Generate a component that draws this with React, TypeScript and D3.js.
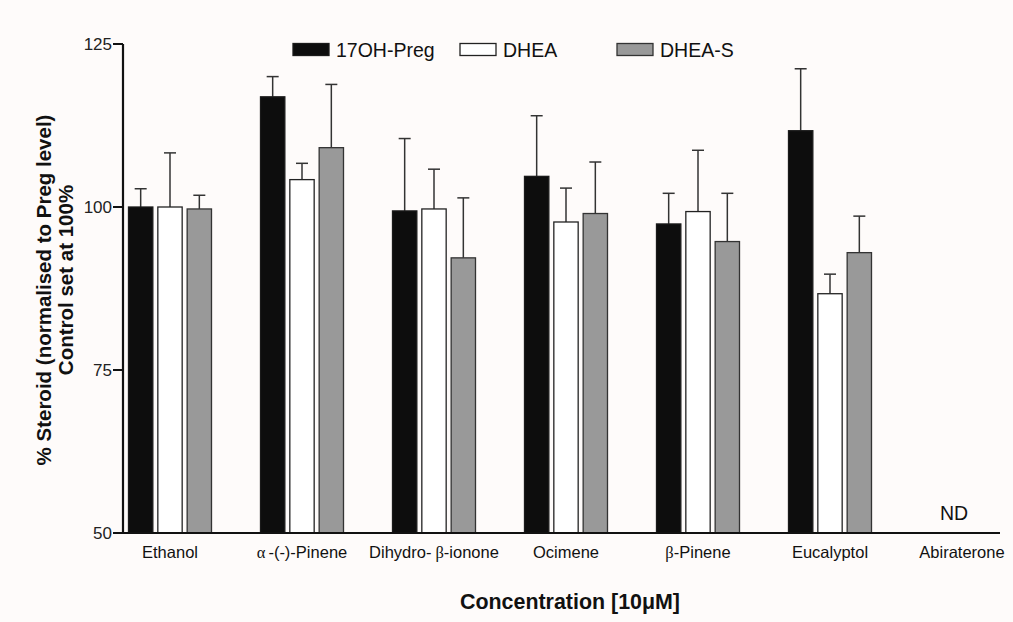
import React, { useEffect, useRef } from 'react';
import * as d3 from 'd3';

const categories = ['Ethanol', 'α-(-)-Pinene', 'Dihydro-β-ionone', 'Ocimene', 'β-Pinene', 'Eucalyptol', 'Abiraterone'];
const seriesNames = ['17OH-Preg', 'DHEA', 'DHEA-S'];
// mean values (null = not detected)
const preg17oh = [100.0, 116.9, 99.4, 104.7, 97.4, 111.7, null];
const dhea = [100.0, 104.2, 99.7, 97.7, 99.3, 86.7, null];
const dheaS = [99.7, 109.1, 92.2, 99.0, 94.7, 93.0, null];
// upper error values
const preg17ohErr = [2.8, 3.1, 11.1, 9.3, 4.7, 9.5, null];
const dheaErr = [8.3, 2.5, 6.1, 5.2, 9.4, 3.0, null];
const dheaSErr = [2.1, 9.7, 9.2, 7.9, 7.4, 5.6, null];
const yTicks = [50, 75, 100, 125];

const fills = ['#0d0d0d', '#ffffff', '#999999'];
const strokes = ['#1a1a1a', '#222222', '#333333'];
const FONT = 'Liberation Sans, Arial, sans-serif';

export default function App() {
  const svgRef = useRef<SVGSVGElement>(null);

  useEffect(() => {
    if (!svgRef.current) return;
    const svg = d3.select(svgRef.current);
    svg.selectAll('*').remove();

    const width = 1013;
    const height = 622;
    const axisX = 123;
    const axisY = 533;

    svg.attr('width', width).attr('height', height);
    svg.append('rect').attr('width', width).attr('height', height).attr('fill', '#fefbfa');

    const y = d3.scaleLinear().domain([50, 125]).range([axisY, 44]);
    const x0 = d3.scaleBand<string>().domain(categories).range([104, 1028]);
    const x1 = d3.scaleBand<string>().domain(seriesNames).range([0, 83]).paddingInner(0.17);

    const values = [preg17oh, dhea, dheaS];
    const errs = [preg17ohErr, dheaErr, dheaSErr];

    const rows: any[] = [];
    categories.forEach((c, i) => {
      seriesNames.forEach((s, j) => {
        if (values[j][i] != null) rows.push({ c, s, j, v: values[j][i], e: errs[j][i] });
      });
    });

    const g = svg.append('g');
    const groupX = (c: string) => x0(c)! + x0.bandwidth() / 2 - 41.5;

    // error bars (upper only)
    rows.forEach(r => {
      const cx = groupX(r.c) + x1(r.s)! + x1.bandwidth() / 2;
      g.append('line')
        .attr('x1', cx).attr('x2', cx)
        .attr('y1', y(r.v)).attr('y2', y(r.v + r.e))
        .attr('stroke', '#333').attr('stroke-width', 1.5);
      g.append('line')
        .attr('x1', cx - 6).attr('x2', cx + 6)
        .attr('y1', y(r.v + r.e)).attr('y2', y(r.v + r.e))
        .attr('stroke', '#333').attr('stroke-width', 1.5);
    });

    g.selectAll('rect.bar')
      .data(rows)
      .enter()
      .append('rect')
      .attr('class', 'bar')
      .attr('x', (d: any) => groupX(d.c) + x1(d.s)!)
      .attr('y', (d: any) => y(d.v))
      .attr('width', x1.bandwidth())
      .attr('height', (d: any) => axisY - y(d.v))
      .attr('fill', (d: any) => fills[d.j])
      .attr('stroke', (d: any) => strokes[d.j])
      .attr('stroke-width', 1.3);

    // ND label
    svg.append('text')
      .attr('x', x0('Abiraterone')! + x0.bandwidth() / 2 - 8)
      .attr('y', 520)
      .attr('text-anchor', 'middle')
      .attr('font-family', FONT)
      .attr('font-size', 19.5)
      .attr('fill', '#111')
      .text('ND');

    // axes
    svg.append('line')
      .attr('x1', axisX).attr('x2', 1000).attr('y1', axisY).attr('y2', axisY)
      .attr('stroke', '#111').attr('stroke-width', 2.2);
    svg.append('line')
      .attr('x1', axisX).attr('x2', axisX).attr('y1', y(125)).attr('y2', axisY + 1)
      .attr('stroke', '#111').attr('stroke-width', 2.2);

    yTicks.forEach(t => {
      svg.append('line')
        .attr('x1', axisX - 10).attr('x2', axisX).attr('y1', y(t)).attr('y2', y(t))
        .attr('stroke', '#111').attr('stroke-width', 2);
      svg.append('text')
        .attr('x', axisX - 11).attr('y', y(t) + 6)
        .attr('text-anchor', 'end')
        .attr('font-family', FONT)
        .attr('font-size', 17)
        .attr('fill', '#222')
        .text(t);
    });

    // category labels, Greek letters in serif
    categories.forEach(c => {
      const t = svg.append('text')
        .attr('x', x0(c)! + x0.bandwidth() / 2)
        .attr('y', 558)
        .attr('text-anchor', 'middle')
        .attr('font-family', FONT)
        .attr('font-size', 16.5)
        .attr('fill', '#111');
      const parts = c.split(/([αβ])/);
      parts.forEach(p => {
        if (!p) return;
        const ts = t.append('tspan').text(p);
        if (p === 'α' || p === 'β') ts.attr('font-family', 'Liberation Serif, serif').attr('dx', p === 'β' && c.startsWith('Dihydro') ? 4 : 0);
        else if (p.startsWith('-(')) ts.attr('dx', 3);
      });
    });

    // axis titles
    svg.append('text')
      .attr('x', 460).attr('y', 609)
      .attr('font-family', FONT)
      .attr('font-weight', 'bold')
      .attr('font-size', 22)
      .attr('textLength', 220)
      .attr('lengthAdjust', 'spacingAndGlyphs')
      .attr('fill', '#111')
      .text('Concentration [10μM]');

    svg.append('text')
      .attr('transform', 'translate(51,290) rotate(-90)')
      .attr('text-anchor', 'middle')
      .attr('font-family', FONT)
      .attr('font-weight', 'bold')
      .attr('font-size', 20.5)
      .attr('fill', '#111')
      .text('% Steroid (normalised to Preg level)');
    svg.append('text')
      .attr('transform', 'translate(73,280) rotate(-90)')
      .attr('text-anchor', 'middle')
      .attr('font-family', FONT)
      .attr('font-weight', 'bold')
      .attr('font-size', 20.5)
      .attr('fill', '#111')
      .text('Control set at 100%');

    // legend
    const legendX = [293, 460, 617];
    seriesNames.forEach((s, j) => {
      svg.append('rect')
        .attr('x', legendX[j]).attr('y', 43.5)
        .attr('width', 36).attr('height', 12)
        .attr('fill', fills[j]).attr('stroke', strokes[j]).attr('stroke-width', 1.3);
      svg.append('text')
        .attr('x', legendX[j] + 43).attr('y', 57)
        .attr('font-family', FONT)
        .attr('font-size', 19.5)
        .attr('fill', '#111')
        .text(s);
    });
  }, []);

  return (
    <div style={{ position: 'absolute', left: 0, top: 0 }}>
      <svg ref={svgRef}></svg>
    </div>
  );
}
